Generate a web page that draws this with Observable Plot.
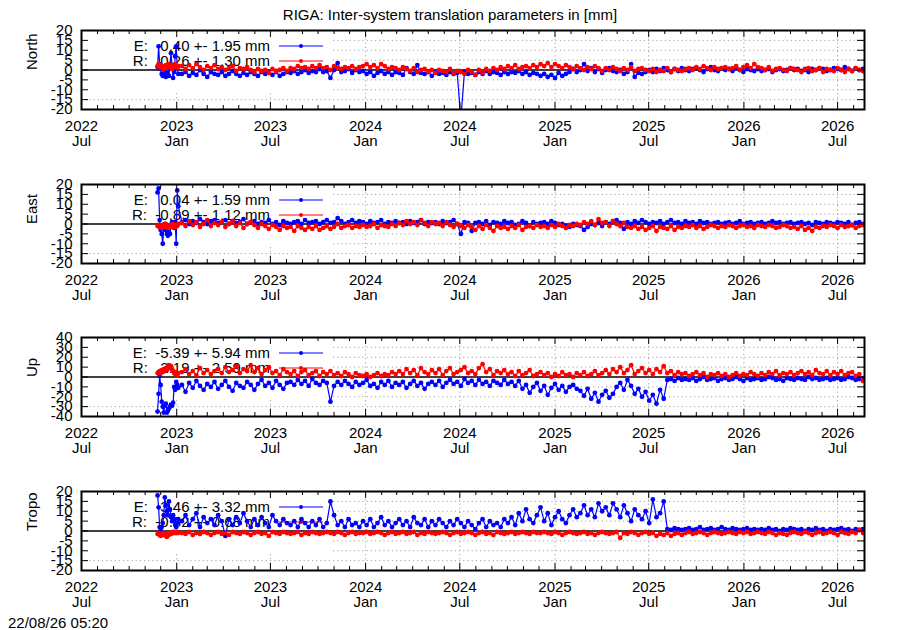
<!DOCTYPE html>
<html><head><meta charset="utf-8">
<script src="https://cdn.jsdelivr.net/npm/d3@7"></script>
<script src="https://cdn.jsdelivr.net/npm/@observablehq/plot@0.6"></script>
<style>
body{margin:0;background:#fff;font-family:"Liberation Sans",Arial,sans-serif;}
#wrap{position:relative;width:900px;height:630px;overflow:hidden;}
.panel{position:absolute;left:0;}
#title{position:absolute;left:0;width:900px;top:6px;text-align:center;font-size:15px;line-height:18px;}
#stamp{position:absolute;left:8px;top:614px;font-size:15px;line-height:18px;}
svg text{white-space:pre;}
</style></head>
<body><div id="wrap"><div id="title">RIGA: Inter-system translation parameters in [mm]</div><div id="stamp">22/08/26 05:20</div></div>
<script>
// ---------------- DATA ----------------
const panelNames = ["North", "East", "Up", "Tropo"];
const legendE = ["E:   0.40 +- 1.95 mm", "E:   0.04 +- 1.59 mm", "E:  -5.39 +- 5.94 mm", "E:   3.46 +- 3.32 mm"];
const legendR = ["R:   0.26 +- 1.30 mm", "R:  -0.89 +- 1.12 mm", "R:   2.19 +- 2.59 mm", "R:  -0.82 +- 0.68 mm"];
const yTicks20 = [-20, -15, -10, -5, 0, 5, 10, 15, 20];
const yTicks40 = [-40, -30, -20, -10, 0, 10, 20, 30, 40];
const xMajorTicks = ["2022-07-01","2023-01-01","2023-07-01","2024-01-01","2024-07-01","2025-01-01","2025-07-01","2026-01-01","2026-07-01"];
const xTickYears = ["2022","2023","2023","2024","2024","2025","2025","2026","2026"];
const xTickMonths = ["Jul","Jan","Jul","Jan","Jul","Jan","Jul","Jan","Jul"];
const xDomain = ["2022-07-01", "2026-08-22"];

// first 21 samples every 2 days from 2022-11-25, then weekly samples
const northE_early = [1.5, 12, 3, 0.5, -2, -3, -2.5, -1, -3.5, -2, 1, -3, 3, 8.5, 2, -4, -1, 7, 12, 1, -2];
const northR_early = [2, 3, 1.5, 2.5, 1, 2, 0.5, 1.5, 2.5, 1, 2, 3, 1.5, 2, 0.5, 2.5, 1.5, 3, 2, 1, 2];
const eastE_early = [16, 18, 2, -3, -5, -10, -2, 0, -3, -5, -6, -4, -5, -1, 1, 0, -2, 1, -10, 17, 9];
const eastR_early = [-1, -0.5, -1.5, -1, -2, -0.5, -1, -1.5, 0, -1, -2, -1, -0.5, -1.5, -1, 0, -1, -1.5, -0.5, -1, 0];
const upE_early = [-35, -17, 1, -8, -25, -30, -36, -29, -27, -36, -34, -32, -30, -28, -29, -26, -10, -13, -5, -8, -11];
const upR_early = [4, 5, 6, 4, 7, 5, 8, 6, 9, 7, 10, 12, 9, 11, 8, 6, 4, 3, 5, 2, 4];
const tropoE_early = [18, 12, 2, 0.5, 2, 4, 8, 17, 13, 10, 8, 15, 11, 7, 5, 8, 6, 3, 2, 4, 6];
const tropoR_early = [-1.5, -1, -2, -2.5, -1.5, -2, -1, -2, -2.5, -3, -1.5, -2, -1, -1.5, -1, -0.5, -1, -0.5, -1, -0.5, -1];

const northE = [
-2, -1, -3, -1.5, -2.5, 0, -2, -3.5, -1, -2,
-2.5, -1, -3, -2, -0.5, -2, -3, -1.5, -2.5, -1,
-2, -3, -1, -2, -1.5, -2.5, -1, -3, -2, -1,
-1.5, -0.5, -2, -1, 0, -1.5, -0.5, -1, 0.5, -1,
-0.5, -4, 0, 3.5, -1, -0.5, 0.5, -1.5, 0, -1,
-0.5, -2, -1, -3, -1.5, -0.5, -2, -1, -2.5, -1,
-1.5, -2.5, 1, -1, -2, 2.5, -1.5, -2, -1, -3,
-1, -2, -1.5, -2.5, -1, -2, -1.5, -25, -1, -2,
-1.5, -2.5, -1, -2, -0.5, -2, -1, -1.5, -2.5, -1,
-2, -1, -1.5, -0.5, -2, -1, -2.5, -1.5, -2, -3,
-2, -3.5, -2.5, -4, -1.5, -3, -2, -1, 0.5, -1,
0, 3, -0.5, 1, -1, 0.5, -1.5, 0, 1, -0.5,
-1, 0, -2, -1, 3, -3.5, -1.5, -2, -1, 0,
-1, 0.5, -0.5, 1, 0, -1, 0.5, -0.5, 1, 0,
-0.5, 0.5, 1, 0, -1, 0.5, 1.5, 0, -0.5, 1,
0, 0.5, -0.5, 1, 0, -1, 0.5, 0, -0.5, 0.5,
-0.5, 0, 0.5, -1, 0, 0.5, -0.5, 0, 1, 0,
0.5, -0.5, 0, -1, 0.5, 0, 1, 0.5, -0.5, 0,
1, 0.5, 0, 1.5, 0.5, -0.5, 1, 0, 0.5
];
const northR = [
2, 0.5, 2.5, 1, 3, 1.5, 0, 2, 1, 2.5,
0.5, 1.5, 0, 1, 2, -0.5, 1, 0.5, 1.5, 0,
-1, 0.5, -0.5, 0, -1.5, 0.5, -0.5, 0, 1, -0.5,
1, 0.5, 2, 1, 1.5, 0.5, 2, 1, 2.5, 1,
1.5, 0, 2, 1, 0.5, 1.5, 1, 2, 0.5, 1.5,
2, 3, 1.5, 2.5, 1, 3, 2, 0.5, 1.5, 1,
0, 1.5, 0.5, -0.5, 1, -1, 0, 0.5, -1, 0,
-1.5, 0, -0.5, -1, 0.5, -1.5, -0.5, -1, -2, 0,
-1, -2.5, 0, -1.5, 0.5, -0.5, 1, 0, 1.5, 0.5,
2, 1, 2.5, 0.5, 1.5, 2, 1, 2.5, 1.5, 3,
2, 3.5, 1.5, 3, 2, 1, 2.5, 1.5, 0.5, 2,
1, 0, 1.5, 0.5, 2, 1, -0.5, 1, 0, 1.5,
0.5, -0.5, 1, 0, 1.5, -0.5, 0.5, 1, 0, -0.5,
0.5, -1, 0, -0.5, 1, -1, 0.5, 0, -0.5, 0.5,
1, 0, 1.5, 0.5, 2, 1, 0, 1.5, 0.5, 1,
1.5, 0.5, 1, 2, 0, 1.5, 2.5, 1, 3, 1.5,
1, 0, 1.5, -0.5, 0.5, 1, 0, -0.5, 1, 0.5,
0, -1, 0.5, 1, -0.5, 0, 1, -1, 0.5, 0,
-0.5, 1, 0, -1, 0.5, -0.5, 1, 0, -0.5
];
const eastE = [
1, 2, 0, 1.5, 0.5, 2.5, 1, 0, 1.5, 2,
0.5, 1, 2, 0, 1.5, 0.5, 1, 2.5, 0, 1,
1.5, 0, 1, 0.5, 2, 0, 1, -0.5, 1.5, 0.5,
0, 1, 1.5, 0, 2, 0.5, 1, 1.5, 0, 1,
2, 0.5, 1, 3, 1.5, 0, 1, 2, 0.5, 1.5,
1, 0, 1.5, 0.5, 1, 2, 0, 1, 0.5, 1.5,
0.5, 1, 0, 1.5, 0.5, 1, 2, 0, 1, 0.5,
1, 0, 1.5, 0.5, 1, 2, 0, -5, 1, 0.5,
-3.5, 0.5, 1, 0, 1.5, -0.5, 1, 0.5, 0, 1.5,
0.5, 1, -0.5, 0, 1.5, 0.5, -1, 1, 0, 0.5,
1, 0, 1.5, 0.5, -0.5, 0, -1, -1.5, 0, -0.5,
-1, -3, -1.5, 0, -0.5, 0.5, -1, 1, 0, 1.5,
2, 0.5, -2.5, 1, 0, 1.5, 0.5, 2, 1, 0,
1, 0.5, 1.5, 0, 1, 2, 0.5, 1, 0, 1.5,
0.5, 1, 0, 1.5, 0.5, 1, 0, 0.5, 1, 0,
0.5, 1, 0, 0.5, 1.5, 0, 0.5, 1, 0, 0.5,
1, 0, 0.5, 1.5, 0.5, 1, 0, 0.5, 1, 0,
0.5, 1, 0, 0.5, -0.5, 1, 0.5, 0, 1, 0.5,
0, 1, 0.5, 0, 1, -0.5, 0.5, 1, 0
];
const eastR = [
0.5, -1, 1.5, -0.5, 1, -1.5, 0, 2, -1, 0.5,
-0.5, 1, -1.5, 0, 1.5, -1, 0.5, -2, 0, 1,
-0.5, -2, 0, -1, -2.5, -0.5, -1.5, -3, -1, -2,
-1.5, -3.5, -1, -2, -3, -1.5, -2.5, -1, -3, -2,
-1, -2.5, -1.5, 0, -2, -1, -0.5, -2, -1, -1.5,
-0.5, -1.5, -1, 0, -2, -0.5, -1, -1.5, 0, -1,
0.5, -0.5, 1.5, 0, 1, -0.5, 2, 0.5, -1, 1,
0, 0.5, -1, 1, -0.5, -1.5, 0, -1, -2, -0.5,
-1.5, -3, -1, -2.5, -0.5, -2, -3.5, -1, -2, -1.5,
-2.5, -1, -2, -0.5, -3, -1.5, -1, -2, -0.5, -1.5,
-1, -2, -0.5, -1.5, 0, -1, -2, -0.5, -1, 0,
-0.5, 1, 0, 1.5, -0.5, 2.5, 0.5, 1, -1, 1.5,
0, -1, 0.5, -1.5, -2, -1, -2.5, -1.5, -3, -2,
-1, -3.5, -1.5, -2, -2.5, -1, -3, -1.5, -2, -1,
-1.5, -0.5, -2, -1, -2.5, -1.5, -0.5, -1, -2, -1,
-1.5, -0.5, -1, -2, -1, -0.5, -1.5, -1, -2, -0.5,
-1, -1.5, -0.5, -1, -2, -1.5, -0.5, -1, -2, -1.5,
-2.5, -1, -3, -2, -3.5, -1.5, -2, -1, -1.5, -0.5,
-1, -2, -0.5, -1.5, -1, -0.5, -2, -1, -0.5
];
const upE = [
-8, -15, -6, -11, -4, -9, -13, -7, -10, -5,
-12, -8, -4, -10, -14, -6, -9, -11, -5, -8,
-13, -7, -3, -9, -6, -11, -4, -8, -12, -6,
-5, -8, -3, -7, -4, -9, -2, -6, -8, -4,
-6, -25, -9, -5, -8, -4, -7, -10, -5, -8,
-6, -3, -9, -7, -11, -5, -8, -4, -10, -6,
-8, -5, -11, -7, -4, -9, -6, -12, -7, -5,
-8, -4, -10, -6, -3, -7, -5, -9, -2, -6,
-4, -8, -3, -7, -5, -9, -4, -6, -8, -3,
-7, -5, -9, -4, -12, -8, -16, -10, -6, -14,
-9, -18, -11, -7, -13, -9, -15, -10, -8, -12,
-14, -19, -12, -22, -16, -25, -18, -14, -21, -17,
-10, -6, -13, -3, -9, -17, -12, -20, -15, -24,
-18, -27, -13, -22, -3, -2, -4, -1, -3, -2,
-3, -1, -4, -2, 0, -3, -2, -1, -4, -2,
-1, -3, -2, 0, -2, -4, -1, -3, -2, -1,
-3, -2, 0, -1, -3, -2, -4, -1, -2, -3,
-1, -2, -3, 0, -2, -1, -3, -2, -1, -3,
-2, -1, -3, -2, 0, -1, -3, -2, -2
];
const upR = [
5, 8, 3, 6, 2, 9, 4, 7, 3, 6,
8, 4, 10, 5, 7, 11, 4, 8, 6, 12,
5, 9, 3, 7, 10, 4, 6, 2, 8, 5,
3, 6, 1, 5, 7, 2, 4, 6, 1, 5,
3, 6, 2, 4, 1, 5, 3, 0, 4, 2,
1, 3, 0, 2, 4, 1, 3, 2, 5, 3,
6, 3, 8, 4, 7, 2, 9, 5, 3, 7,
4, 8, 2, 6, 9, 3, 5, 7, 10, 4,
6, 3, 9, 13, 5, 8, 2, 6, 4, 7,
3, 5, 1, 6, 2, 4, 7, 1, 3, 5,
2, 4, 0, 3, 1, 5, 2, 3, 0, 4,
2, 5, 1, 3, 6, 2, 4, 7, 3, 8,
5, 10, 4, 7, 12, 3, 6, 9, 4, 7,
3, 8, 5, 11, 4, 6, 2, 5, 3, 4,
1, 3, 5, 2, 4, 0, 3, 2, 4, 1,
3, 0, 2, 4, 1, 3, 2, 5, 3, 1,
4, 2, 5, 3, 6, 2, 4, 3, 5, 2,
4, 6, 3, 5, 2, 7, 4, 3, 6, 2,
5, 3, 6, 2, 4, 5, 1, 3, -4
];
const tropoE = [
5, 8, 3, 6, 9, 2, 7, 4, 6, 3,
8, 5, -2.5, 6, 3, 7, 4, 9, 5, 2,
6, 3, 7, 4, 2, 8, 5, 3, 6, 4,
3, 5, 2, 6, 4, 2, 5, 3, 6, 2,
4, 15, 8, 3, 5, 2, 6, 3, 4, 2,
5, 3, 6, 2, 4, 7, 3, 5, 2, 4,
6, 3, 5, 2, 7, 4, 3, 6, 2, 5,
3, 6, 4, 2, 5, 3, 6, 4, 2, 5,
3, 1, 4, 6, 2, 5, 3, 4, 2, 6,
4, 7, 3, 9, 5, 11, 6, 4, 8, 12,
5, 9, 3, 7, 10, 6, 4, 8, 11, 7,
9, 13, 8, 11, 7, 14, 10, 12, 8, 14,
11, 7, 13, 9, 5, 11, 8, 6, 10, 4,
16, 7, 9, 15, 1, 0.5, 1.5, 1, 0.5, 1,
1.5, 0.5, 1, 2, 0.5, 1, 1.5, 0.5, 1, 2,
1, 0.5, 1.5, 1, 0.5, 1, 1.5, 0.5, 1, 0.5,
1, 0.5, 1.5, 0.5, 1, 0, 1, 0.5, 1.5, 1,
0.5, 1, 0, 1, 0.5, 1.5, 0.5, 1, 0, 1,
0.5, 1, 1.5, 0.5, 1, 0, 1, 0.5, 1
];
const tropoR = [
-1, -1.5, -0.5, -2, -1, -1.5, -0.5, -1, -2, -1,
-0.5, -1.5, -1, -2, -0.5, -1, -1.5, -0.5, -1, -2,
-1, -0.5, -1.5, -1, -2.5, -0.5, -1, -1.5, -0.5, -1,
-1.5, -1, -0.5, -2, -1, -1.5, -0.5, -1, -1.5, -1,
-0.5, -1, -1.5, -0.5, -1, -2, -1, -0.5, -1.5, -1,
-1, -0.5, -1.5, -1, -0.5, -1, -2, -1, -0.5, -1.5,
-1, -0.5, -1.5, -1, -0.5, -2, -1, -1.5, -0.5, -1,
-1.5, -1, -0.5, -1, -2, -1, -0.5, -1.5, -1, -0.5,
-1, -2, -1, -0.5, -1.5, -1, -2, -0.5, -1, -1.5,
-1, -0.5, -1.5, -1, -0.5, -1, -1.5, -0.5, -1, -1,
-0.5, -1, -1.5, -0.5, -1, -2, -1, -0.5, -1, -1.5,
-1, -0.5, -1.5, -1, -2, -1, -0.5, -1, -1.5, -1,
-0.5, -3.5, -1, -1.5, -0.5, -1, -2, -1, -0.5, -1.5,
-1, -2.5, -1.5, -2, -1, -2.5, -1.5, -1, -2, -1,
-0.5, -1.5, -1, -0.5, -1, -2, -1, -0.5, -1, -1.5,
-1, -0.5, -1, -1.5, -0.5, -1, -0.5, -1.5, -1, -0.5,
-1, -1.5, -0.5, -1, -2, -1, -1.5, -2, -1, -0.5,
-1, -1.5, -0.5, -1, -2, -1, -0.5, -1.5, -1, -0.5,
-1, -2, -0.5, -1, -1.5, -0.5, -1, 0.5, -1
];

// ---------------- BUILD ----------------
const baseDay = Date.UTC(2022, 10, 25);
function toRows(early, weekly) {
  const vals = early.concat(weekly);
  return vals.map((v, i) => ({
    date: new Date(baseDay + (i < early.length ? 2 * i : 47 + 7 * (i - early.length)) * 864e5),
    v
  }));
}
const seriesE = [toRows(northE_early, northE), toRows(eastE_early, eastE), toRows(upE_early, upE), toRows(tropoE_early, tropoE)];
const seriesR = [toRows(northR_early, northR), toRows(eastR_early, eastR), toRows(upR_early, upR), toRows(tropoR_early, tropoR)];
const yTickSets = [yTicks20, yTicks20, yTicks40, yTicks20];

const majorDates = xMajorTicks.map(s => new Date(s + "T00:00Z"));
const xd = xDomain.map(s => new Date(s + "T00:00Z"));
const minorDates = d3.utcMonth.range(xd[0], xd[1]).filter(d => d.getUTCMonth() !== 0 && d.getUTCMonth() !== 6);
const labelOf = new Map(majorDates.map((d, i) => [+d, xTickYears[i] + "\n" + xTickMonths[i]]));

const W = 900, H = 153, ML = 81, MR = 36, MT = 30, MB = 44;
const PW = W - ML - MR, PH = H - MT - MB;
const tops = [0, 154, 307, 461];
const BLUE = "#0000ff", RED = "#ff0000";
const gridStyle = {stroke: "#a0a0a0", strokeOpacity: 1, strokeWidth: 1, strokeDasharray: "1.2,3"};

const wrap = document.getElementById("wrap");

panelNames.forEach((name, p) => {
  const yt = yTickSets[p];
  const lim = yt[yt.length - 1];
  const gridYVals = yt.filter(v => v !== 0 && Math.abs(v) !== lim);
  const keyMark = (index, scales, values, dim) => {
    const g = d3.create("svg:g");
    // opaque key box (hides grid like the original)
    g.append("rect").attr("x", dim.marginLeft + 1).attr("y", dim.marginTop + 1)
      .attr("width", 249).attr("height", 62).attr("fill", "white");
    const rows = [[legendE[p], BLUE, 16], [legendR[p], RED, 31]];
    for (const [txt, col, dy] of rows) {
      const y = dim.marginTop + dy;
      g.append("text").attr("x", dim.marginLeft + 189).attr("y", y).attr("dy", "0.35em")
        .attr("text-anchor", "end").attr("font-size", 15).attr("fill", "black")
        .style("white-space", "pre").text(txt);
      g.append("line").attr("x1", dim.marginLeft + 198).attr("x2", dim.marginLeft + 242)
        .attr("y1", y).attr("y2", y).attr("stroke", col).attr("stroke-width", 1.2);
      g.append("circle").attr("cx", dim.marginLeft + 220).attr("cy", y).attr("r", 2).attr("fill", col);
    }
    return g.node();
  };
  const svg = Plot.plot({
    width: W, height: H,
    marginLeft: ML, marginRight: MR, marginTop: MT, marginBottom: MB,
    x: {type: "utc", domain: xd},
    y: {domain: [-lim, lim]},
    style: {fontFamily: "'Liberation Sans', Arial, sans-serif", fontSize: "15px", color: "black", background: "transparent", overflow: "visible"},
    marks: [
      Plot.gridY(gridYVals, {...gridStyle}),
      Plot.gridX(majorDates.slice(1), {...gridStyle}),
      keyMark,
      Plot.ruleY([0], {stroke: "black", strokeWidth: 1.3}),
      Plot.line(seriesE[p], {x: "date", y: "v", stroke: BLUE, strokeWidth: 1.2, clip: true}),
      Plot.dot(seriesE[p], {x: "date", y: "v", r: 2.4, fill: BLUE, stroke: null, clip: true}),
      Plot.line(seriesR[p], {x: "date", y: "v", stroke: RED, strokeWidth: 1.2, clip: true}),
      Plot.dot(seriesR[p], {x: "date", y: "v", r: 2.4, fill: RED, stroke: null, clip: true}),
      // inward ticks
      Plot.tickX(minorDates, {x: d => d, insetTop: PH - 4, stroke: "black"}),
      Plot.tickX(minorDates, {x: d => d, insetBottom: PH - 4, stroke: "black"}),
      Plot.tickX(majorDates, {x: d => d, insetTop: PH - 7, stroke: "black"}),
      Plot.tickX(majorDates, {x: d => d, insetBottom: PH - 7, stroke: "black"}),
      Plot.tickY(yt, {y: d => d, insetRight: PW - 7, stroke: "black"}),
      Plot.tickY(yt, {y: d => d, insetLeft: PW - 7, stroke: "black"}),
      Plot.frame({stroke: "black", strokeWidth: 2}),
      Plot.axisX(majorDates, {tickSize: 0, tickPadding: 11, fontSize: 15, label: null, tickFormat: d => labelOf.get(+d)}),
      Plot.axisY(yt, {tickSize: 0, tickPadding: 9, fontSize: 15, label: null, tickFormat: d => String(d)}),
      Plot.text([name], {frameAnchor: "left", dx: -49, rotate: -90, text: d => d, fontSize: 15, fill: "black"})
    ]
  });
  svg.classList.add("panel");
  svg.style.top = tops[p] + "px";
  svg.style.position = "absolute";
  wrap.appendChild(svg);
});
</script>
</body></html>
